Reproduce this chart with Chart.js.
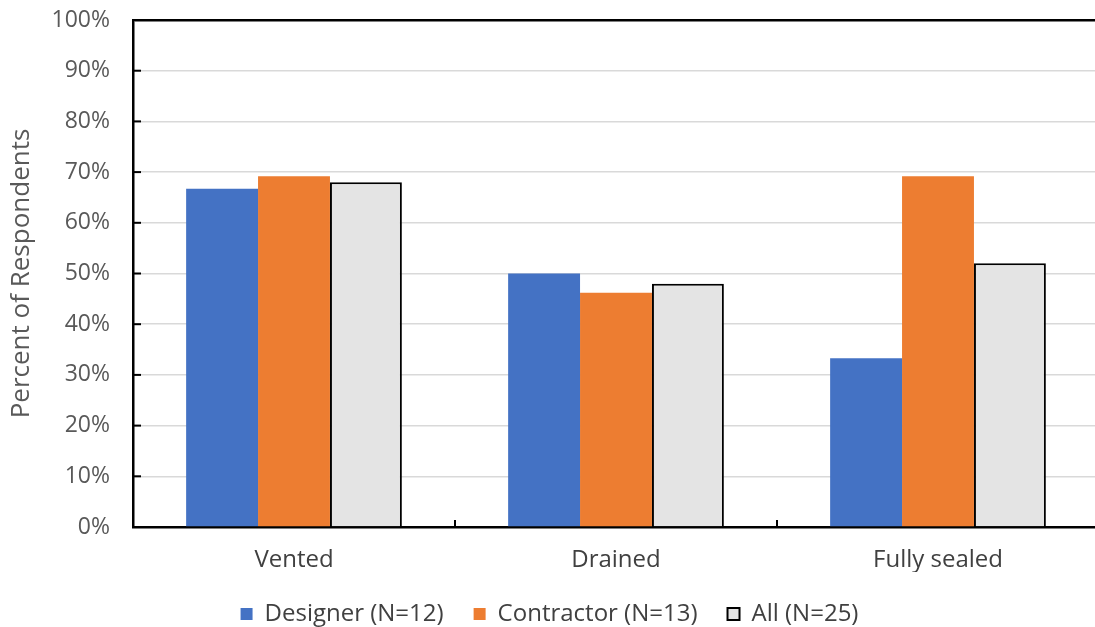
<!DOCTYPE html>
<html>
<head>
<meta charset="utf-8">
<script src="https://cdn.jsdelivr.net/npm/chart.js@4/dist/chart.umd.min.js"></script>
<style>
  html, body { margin: 0; padding: 0; background: #ffffff; overflow: hidden; }
  #wrap { width: 1100px; height: 636px; }
</style>
</head>
<body>
<div id="wrap"><canvas id="chart" width="1100" height="636"></canvas></div>
<script>
// Ventilation strategy by respondent group (percent of respondents)
const categories = ['Vented', 'Drained', 'Fully sealed'];
const designerValues = [66.7, 50.0, 33.3];
const contractorValues = [69.2, 46.2, 69.2];
const allValues = [68.0, 48.0, 52.0];
const seriesNames = ['Designer (N=12)', 'Contractor (N=13)', 'All (N=25)'];
const yTickMax = 100;
const yTickStep = 10;

const FONT = "'Open Sans', 'Noto Sans', sans-serif";

// Short tick marks drawn on the inner side of both axes
const innerTicks = {
  id: 'innerTicks',
  afterDatasetsDraw(chart) {
    const { ctx } = chart;
    const x = chart.scales.x, y = chart.scales.y;
    ctx.save();
    ctx.strokeStyle = '#000000';
    ctx.lineWidth = 2;
    y.ticks.forEach(t => {
      const py = y.getPixelForValue(t.value);
      ctx.beginPath();
      ctx.moveTo(x.left, py);
      ctx.lineTo(x.left + 8, py);
      ctx.stroke();
    });
    for (let i = 0; i < categories.length - 1; i++) {
      const px = (x.getPixelForValue(i) + x.getPixelForValue(i + 1)) / 2;
      ctx.beginPath();
      ctx.moveTo(px, y.bottom);
      ctx.lineTo(px, y.bottom - 7);
      ctx.stroke();
    }
    ctx.restore();
  }
};

new Chart(document.getElementById('chart'), {
  type: 'bar',
  data: {
    labels: categories,
    datasets: [
      { label: seriesNames[0], data: designerValues, backgroundColor: '#4472C4', borderWidth: 0 },
      { label: seriesNames[1], data: contractorValues, backgroundColor: '#ED7D31', borderWidth: 0 },
      { label: seriesNames[2], data: allValues, backgroundColor: '#E4E4E4', borderColor: '#000000', borderWidth: 2 }
    ]
  },
  options: {
    responsive: false,
    animation: false,
    devicePixelRatio: 1,
    layout: { padding: { top: 20, right: 1, left: 0, bottom: 0 } },
    datasets: { bar: { categoryPercentage: 0.67, barPercentage: 1.0 } },
    scales: {
      x: {
        grid: { display: false },
        border: { display: true, color: '#000000', width: 2.5 },
        ticks: { color: '#404040', font: { family: FONT, size: 24 }, padding: 11 },
        afterFit(scale) { scale.height = 45; scale.paddingLeft = 0; scale.paddingRight = 0; }
      },
      y: {
        min: 0,
        max: yTickMax,
        grid: {
          drawTicks: false,
          color: c => (c.tick && c.tick.value === yTickMax) ? '#000000' : '#d9d9d9',
          lineWidth: c => (c.tick && c.tick.value === yTickMax) ? 2.5 : 1.5
        },
        border: { display: true, color: '#000000', width: 2.5 },
        ticks: {
          stepSize: yTickStep,
          color: '#595959',
          font: { family: FONT, size: 23 },
          padding: 23,
          callback: v => v + '%'
        },
        title: {
          display: true,
          text: 'Percent of Respondents',
          color: '#595959',
          font: { family: FONT, size: 26 },
          padding: { top: 6, bottom: 0 }
        },
        afterFit(scale) { scale.width = 133; scale.paddingTop = 0; scale.paddingBottom = 0; }
      }
    },
    plugins: {
      legend: {
        position: 'bottom',
        labels: {
          color: '#404040',
          font: { family: FONT, size: 24 },
          boxWidth: 12,
          boxHeight: 12,
          padding: 30
        }
      },
      tooltip: { enabled: false }
    }
  },
  plugins: [innerTicks]
});
</script>
</body>
</html>
